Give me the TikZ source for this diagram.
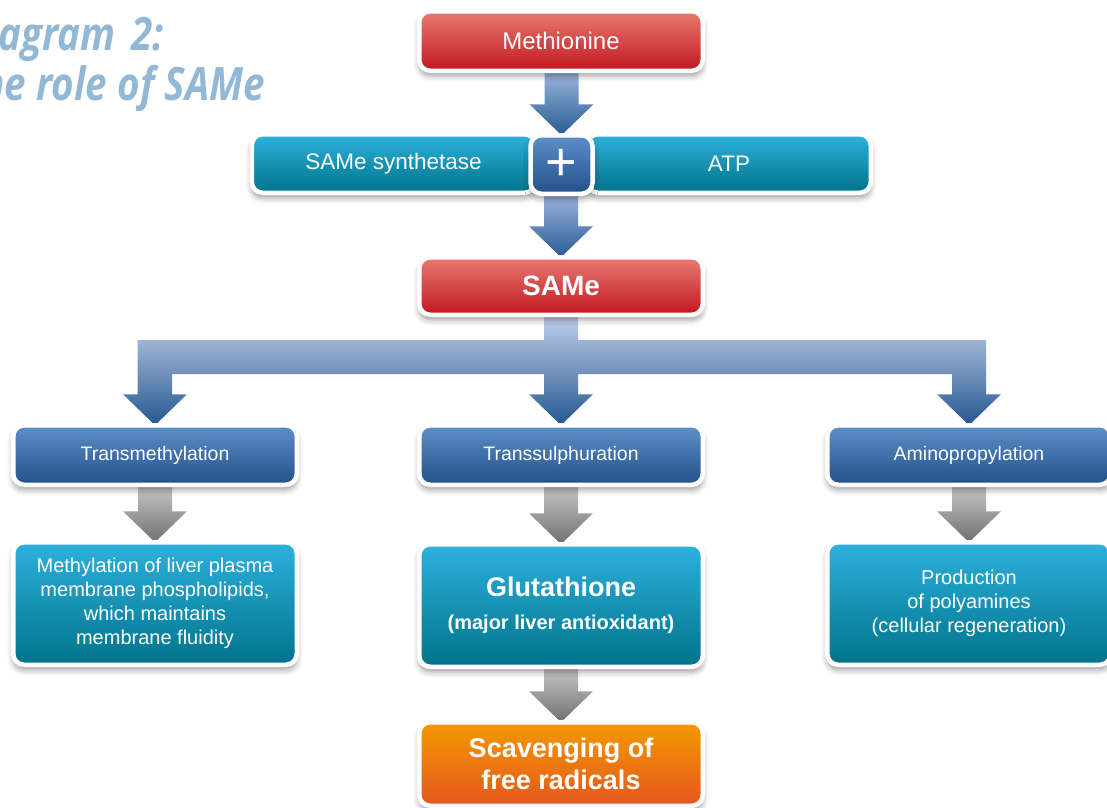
\documentclass[tikz,border=0pt]{standalone}
\usepackage{fontspec}
\setmainfont{Liberation Sans}
\newfontfamily\titlefont[FakeStretch=0.84]{Open Sans}
\usetikzlibrary{calc,backgrounds,shadows.blur}
\definecolor{redT}{HTML}{E87A72}
\definecolor{redB}{HTML}{C2171F}
\definecolor{tealT}{HTML}{2DB1DE}
\definecolor{tealB}{HTML}{00738A}
\definecolor{blueT}{HTML}{5D8FC8}
\definecolor{blueB}{HTML}{22508A}
\definecolor{orT}{HTML}{F39A00}
\definecolor{orB}{HTML}{E4561F}
\definecolor{arT}{HTML}{9DB6DD}
\definecolor{arB}{HTML}{285B93}
\definecolor{brT}{HTML}{C2D0EA}
\definecolor{brB}{HTML}{255890}
\definecolor{grT}{HTML}{C8C8C8}
\definecolor{grB}{HTML}{707070}
\definecolor{titleC}{HTML}{93B8D5}
\tikzset{
  box/.style={rounded corners=11pt, draw=white, line width=4.5pt, text=white,
    align=center, inner sep=0pt, outer sep=0pt,
    minimum width=283.5pt, minimum height=59.5pt,
    blur shadow={shadow xshift=0pt, shadow yshift=-5pt, shadow blur radius=6pt, shadow opacity=40}},
  redbox/.style={box, top color=redT, bottom color=redB},
  tealbox/.style={box, top color=tealT, bottom color=tealB},
  bluebox/.style={box, top color=blueT, bottom color=blueB},
  orbox/.style={box, top color=orT, bottom color=orB},
  bluearrow/.style={top color=arT, bottom color=arB},
  brancharrow/.style={top color=brT, bottom color=brB},
  grayarrow/.style={top color=grT, bottom color=grB},
  titletext/.style={text=titleC, font=\titlefont\bfseries\itshape\fontsize{46}{50}\selectfont, inner sep=0pt, anchor=base east}
}
\newcommand{\fatarrow}[3]{%
  \path[#1] let \p1=(#2), \p2=(#3) in
    (\x2-17pt,\y1) -- (\x2-17pt,\y2+31pt) -- (\x2-32pt,\y2+31pt) -- (\x2,\y2)
    -- (\x2+32pt,\y2+31pt) -- (\x2+17pt,\y2+31pt) -- (\x2+17pt,\y1) -- cycle;}
\begin{document}
\begin{tikzpicture}[x=1pt,y=1pt]
\useasboundingbox (0,0) rectangle (1107,-807);
% title
\node[titletext] (t1) at (164,-50) {Diagram\hspace{6pt} 2:};
\node[titletext] (t2) at (265,-100) {The role of SAMe};
% nodes
\node[redbox, font=\fontsize{24}{28}\selectfont] (meth) at (561,-41) {Methionine};
\node[tealbox, minimum height=58.5pt, font=\fontsize{22.5}{26}\selectfont] (synth) at (393.5,-163.5) {SAMe synthetase};
\node[tealbox, minimum height=58.5pt, font=\fontsize{22.5}{26}\selectfont] (atp) at (729,-163.5) {ATP};
\node[bluebox, minimum width=62pt, minimum height=58.5pt, font=\fontsize{54}{54}\selectfont] (plus) at (561.5,-164.5) {+};
\node[redbox, minimum height=57.5pt, font=\bfseries\fontsize{28}{32}\selectfont] (same) at (561,-286) {SAMe};
\node[bluebox, font=\fontsize{19.5}{23}\selectfont] (tm) at (155,-455) {Transmethylation};
\node[bluebox, font=\fontsize{19.5}{23}\selectfont] (ts) at (561,-455) {Transsulphuration};
\node[bluebox, font=\fontsize{19.5}{23}\selectfont] (ap) at (969,-455) {Aminopropylation};
\node[tealbox, minimum height=122.5pt, font=\fontsize{20}{24}\selectfont] (liver) at (155,-603.5)
  {Methylation of liver plasma\\membrane phospholipids,\\which maintains\\membrane fluidity};
\node[tealbox, minimum height=122.5pt, font=\bfseries\fontsize{20}{33}\selectfont] (glut) at (561,-605.5)
  {{\fontsize{27}{33}\selectfont Glutathione}\\(major liver antioxidant)};
\node[tealbox, minimum height=122.5pt, font=\fontsize{20}{24}\selectfont] (prod) at (969,-603.5)
  {Production\\of polyamines\\(cellular regeneration)};
\node[orbox, minimum height=83.5pt, font=\bfseries\fontsize{27}{32}\selectfont] (scav) at (561,-764)
  {Scavenging of\\free radicals};
% connectors
\begin{pgfonlayer}{background}
\fatarrow{bluearrow}{meth.south}{plus.north}
\fatarrow{bluearrow}{plus.south}{same.north}
\path[brancharrow] let \p1=(same.south), \p2=(tm.north), \p3=(ts.north), \p4=(ap.north) in
  (\x1-17pt,\y1) -- (\x1-17pt,-340pt) -- (\x2-17.5pt,-340pt) -- (\x2-17.5pt,\y2+31pt)
  -- (\x2-32pt,\y2+31pt) -- (\x2,\y2) -- (\x2+32pt,\y2+31pt) -- (\x2+17pt,\y2+31pt)
  -- (\x2+17pt,-374pt) -- (\x3-17pt,-374pt) -- (\x3-17pt,\y3+31pt)
  -- (\x3-32pt,\y3+31pt) -- (\x3,\y3) -- (\x3+32pt,\y3+31pt) -- (\x3+17pt,\y3+31pt)
  -- (\x3+17pt,-374pt) -- (\x4-17pt,-374pt) -- (\x4-17pt,\y4+31pt)
  -- (\x4-32pt,\y4+31pt) -- (\x4,\y4) -- (\x4+32pt,\y4+31pt) -- (\x4+17pt,\y4+31pt)
  -- (\x4+17pt,-340pt) -- (\x1+17pt,-340pt) -- (\x1+17pt,\y1) -- cycle;
\fatarrow{grayarrow}{tm.south}{liver.north}
\fatarrow{grayarrow}{ts.south}{glut.north}
\fatarrow{grayarrow}{ap.south}{prod.north}
\fatarrow{grayarrow}{glut.south}{scav.north}
\end{pgfonlayer}
\end{tikzpicture}
\end{document}
